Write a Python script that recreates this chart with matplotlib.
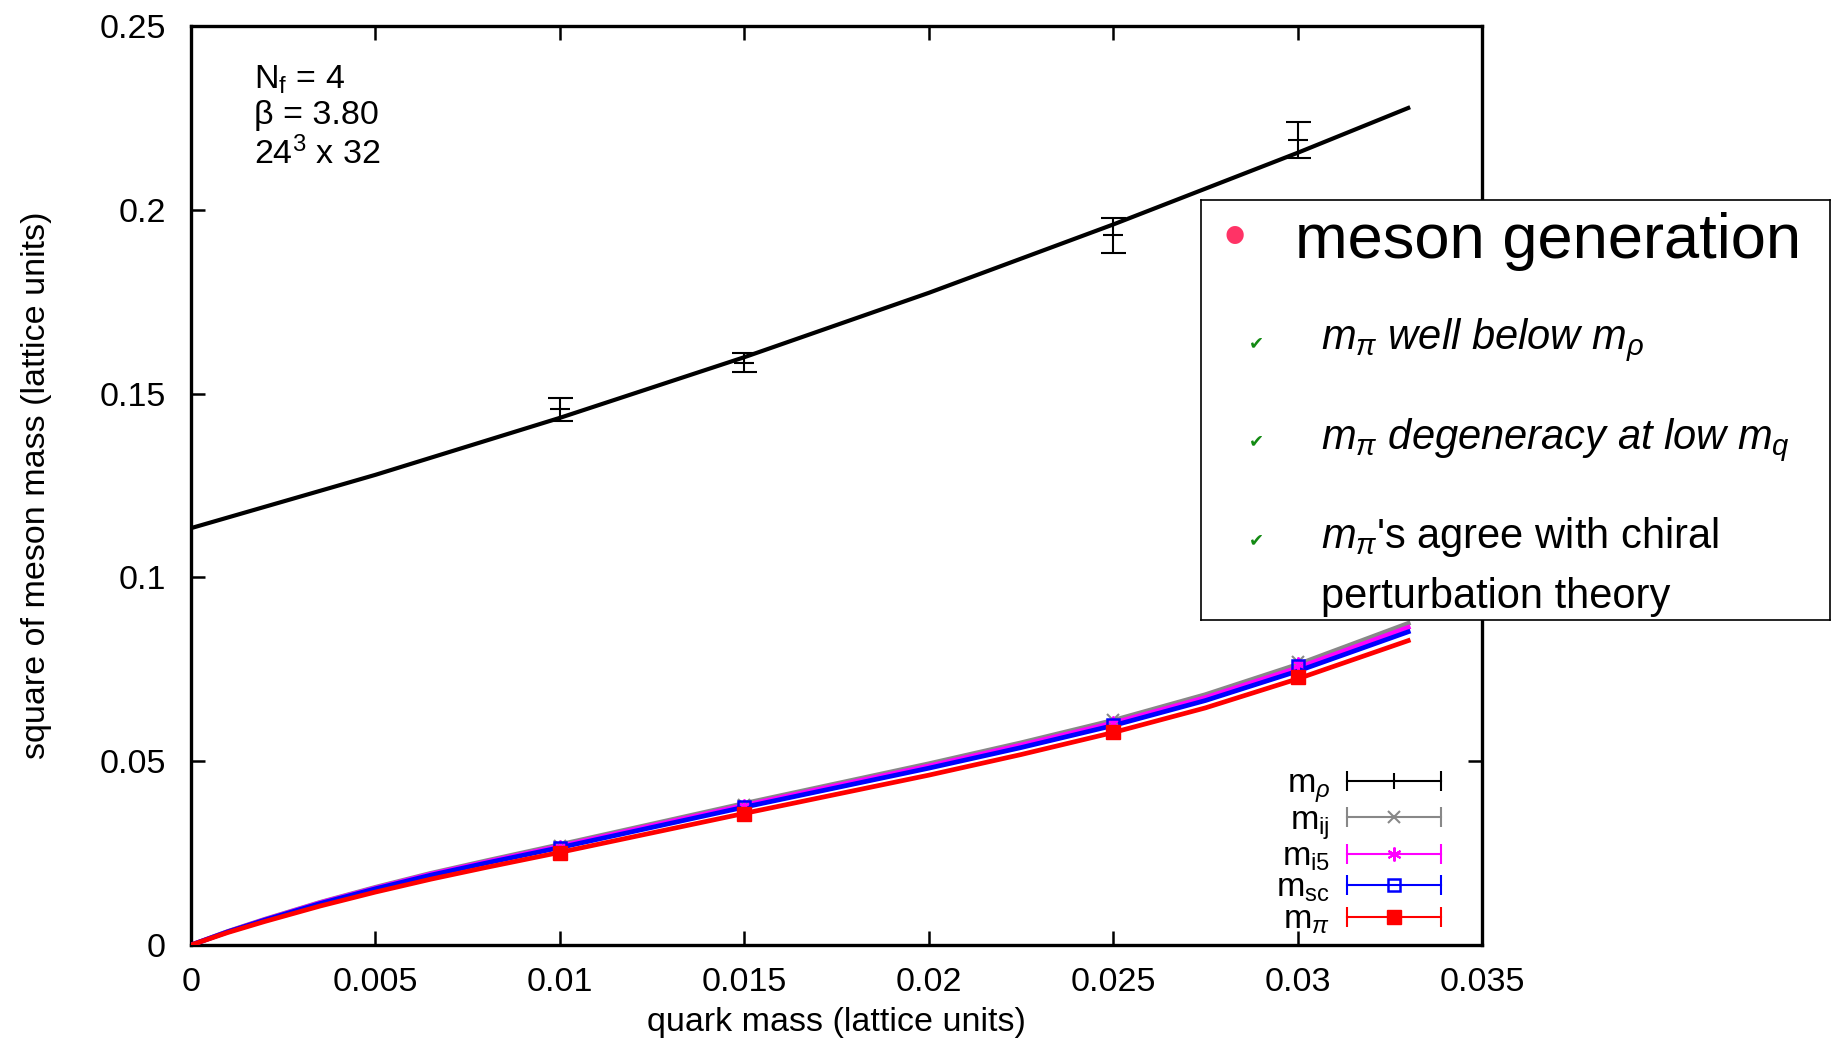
import matplotlib
matplotlib.use("Agg")
import matplotlib.pyplot as plt
import matplotlib.ticker as ticker
from matplotlib.lines import Line2D
from matplotlib.legend_handler import HandlerLine2D

plt.rcParams['font.family'] = ['Liberation Sans', 'DejaVu Sans']
plt.rcParams['mathtext.fontset'] = 'custom'
plt.rcParams['mathtext.rm'] = 'Liberation Sans'
plt.rcParams['mathtext.it'] = 'Liberation Sans:italic'
plt.rcParams['mathtext.bf'] = 'Liberation Sans:bold'

# measured points (quark mass, square of meson mass)
mq = [0.01, 0.015, 0.025, 0.03]
m_rho = [0.1457, 0.1584, 0.1931, 0.2190]
m_rho_err = [0.0032, 0.0026, 0.0048, 0.0050]
m_ij = [0.0270, 0.0381, 0.0611, 0.0771]
m_i5 = [0.0267, 0.0378, 0.0604, 0.0764]
m_sc = [0.0264, 0.0375, 0.0598, 0.0759]
m_pi = [0.0251, 0.0356, 0.0580, 0.0729]

# fit curves
fit_x_rho = [0, 0.005, 0.01, 0.015, 0.02, 0.025, 0.03, 0.033]
fit_rho = [0.1134, 0.1279, 0.1434, 0.1599, 0.1774, 0.1960, 0.2155, 0.2277]

fit_x = [0, 0.001, 0.002, 0.0035, 0.005, 0.0065, 0.008, 0.01, 0.0125, 0.015,
         0.0175, 0.02, 0.0225, 0.025, 0.0275, 0.03, 0.033]
fit_ij = [0, 0.0037, 0.0070, 0.0116, 0.0157, 0.0195, 0.0229, 0.0273, 0.0329, 0.0385,
          0.0439, 0.0493, 0.0550, 0.0611, 0.0681, 0.0763, 0.0875]
fit_i5 = [0, 0.0036, 0.0069, 0.0115, 0.0155, 0.0193, 0.0226, 0.0269, 0.0325, 0.0380,
          0.0434, 0.0487, 0.0544, 0.0604, 0.0673, 0.0754, 0.0864]
fit_sc = [0, 0.0036, 0.0068, 0.0113, 0.0153, 0.0190, 0.0223, 0.0265, 0.0320, 0.0375,
          0.0428, 0.0481, 0.0537, 0.0597, 0.0665, 0.0745, 0.0852]
fit_pi = [0, 0.0034, 0.0064, 0.0106, 0.0144, 0.0179, 0.0211, 0.0252, 0.0305, 0.0358,
          0.0410, 0.0462, 0.0518, 0.0578, 0.0645, 0.0724, 0.0828]

fig = plt.figure(figsize=(18.34, 10.48), dpi=100)
ax = fig.add_axes([191/1834, 1 - 945/1048, 1291/1834, 919/1048])

ax.plot(fit_x_rho, fit_rho, color='black', lw=3, zorder=3)
ax.plot(fit_x, fit_ij, color='#888888', lw=3.4, zorder=3)
ax.plot(fit_x, fit_i5, color='#ff00ff', lw=3.4, zorder=3)
ax.plot(fit_x, fit_sc, color='#0000ff', lw=3.4, zorder=3)
ax.plot(fit_x, fit_pi, color='#ff0000', lw=3.4, zorder=3)

ax.errorbar(mq, m_rho, yerr=m_rho_err, fmt='_', color='black', ms=14, mew=1.5,
            elinewidth=1.5, capsize=9, capthick=1.5, zorder=4)
ax.plot(mq, m_ij, 'x', color='#888888', ms=9, mew=1.5, zorder=4)
ax.plot(mq, m_i5, marker=(6, 2, 0), ls='none', color='#ff00ff', ms=10, mew=1.5, zorder=4)
ax.plot(mq, m_sc, 's', color='#0000ff', mfc='none', ms=9, mew=1.8, zorder=5)
ax.plot(mq, m_pi, 's', color='#ff0000', ms=9.5, zorder=6)

ax.set_xlim(0, 0.035)
ax.set_ylim(0, 0.25)
ax.xaxis.set_major_locator(ticker.MultipleLocator(0.005))
ax.yaxis.set_major_locator(ticker.MultipleLocator(0.05))
ax.xaxis.set_major_formatter(ticker.FormatStrFormatter('%g'))
ax.yaxis.set_major_formatter(ticker.FormatStrFormatter('%g'))
ax.tick_params(direction='in', length=10, width=1.8, top=True, right=True, labelsize=24.5)
ax.tick_params(axis='x', pad=16)
ax.tick_params(axis='y', pad=18)
for sp in ax.spines.values():
    sp.set_linewidth(2.4)

ax.set_xlabel('quark mass (lattice units)', fontsize=24.5, labelpad=6)
ax.set_ylabel('square of meson mass (lattice units)', fontsize=24.5, labelpad=34)

ax.text(0.049, 0.959, 'N$_\\mathrm{f}$ = 4\n\u03b2 = 3.80\n24$^3$ x 32', transform=ax.transAxes,
        fontsize=24.5, va='top', ha='left', linespacing=1.18)

# legend in gnuplot style: line with end caps and the point in the middle
labels = ['m$_\\rho$', 'm$_\\mathrm{ij}$', 'm$_\\mathrm{i5}$', 'm$_\\mathrm{sc}$', 'm$_\\pi$']
colors = ['black', '#888888', '#ff00ff', '#0000ff', '#ff0000']
mids = [dict(marker='|', ms=12, mew=1.5),
        dict(marker='x', ms=9, mew=1.5),
        dict(marker=(6, 2, 0), ms=10, mew=1.5),
        dict(marker='s', ms=9, mew=1.8, mfc='none'),
        dict(marker='s', ms=9.5)]
handles = []
hmap = {}
for c, m in zip(colors, mids):
    caps = Line2D([], [], color=c, lw=1.5, marker='|', ms=14, mew=1.5)
    mid = Line2D([], [], color=c, ls='none', **m)
    hmap[caps] = HandlerLine2D(numpoints=2, marker_pad=0)
    hmap[mid] = HandlerLine2D(numpoints=1)
    handles.append((caps, mid))
ax.legend(handles, labels, handler_map=hmap, loc='lower right', bbox_to_anchor=(0.968, 0.010),
          frameon=False, fontsize=24.5, markerfirst=False, handlelength=2.75,
          handletextpad=0.5, labelspacing=0.0, borderpad=0, borderaxespad=0)

# overlay note box
box = fig.add_axes([1201/1834, 1 - 620/1048, 629/1834, 420/1048], zorder=10)
box.set_xticks([])
box.set_yticks([])
box.set_facecolor('white')
for sp in box.spines.values():
    sp.set_linewidth(1.2)
box.set_xlim(0, 1)
box.set_ylim(0, 1)

box.text(0.054, 0.905, '\u2022', color='#ff3366', fontsize=46, ha='center', va='center')
box.text(0.150, 0.862, 'meson generation', fontsize=45.5, ha='left', va='baseline')

check_y = [0.660, 0.426, 0.189]
for cy in check_y:
    box.text(0.088, cy, '\u2714', color='#138a13', fontsize=13, ha='center', va='center',
             family=['DejaVu Sans'])

box.text(0.191, 0.644, '$m_\\pi$ well below $m_\\rho$', fontsize=30, style='italic', va='baseline')
box.text(0.191, 0.407, '$m_\\pi$ degeneracy at low $m_q$', fontsize=30, style='italic', va='baseline')
box.text(0.191, 0.171, "$m_\\pi$'s agree with chiral", fontsize=30, va='baseline')
box.text(0.191, 0.028, 'perturbation theory', fontsize=30, va='baseline')

fig.savefig('out.png', dpi=100)
